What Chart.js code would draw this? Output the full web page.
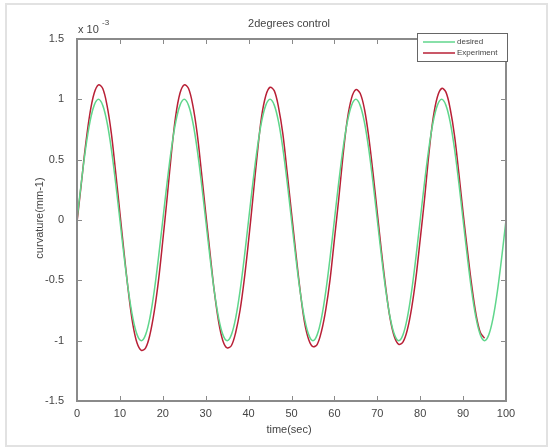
<!DOCTYPE html>
<html>
<head>
<meta charset="utf-8">
<script src="https://cdn.jsdelivr.net/npm/chart.js@4/dist/chart.umd.min.js"></script>
<style>
  html, body { margin: 0; padding: 0; background: #fff; }
  #frame { position: absolute; left: 5px; top: 3px; width: 539px; height: 440px; border: 2px solid #e2e2e2; }
  #wrap { position: absolute; left: 0; top: 0; width: 552px; height: 447px; }
</style>
</head>
<body>
<div id="frame"></div>
<div id="wrap"><canvas id="chart" width="552" height="447"></canvas></div>
<script>
// time (sec) and curvature values, in units of 1e-3
const timeDesired = [
  0, 1, 2, 3, 4, 5, 6, 7, 8, 9, 10, 11, 12, 13, 14, 15, 16, 17, 18, 19,
  20, 21, 22, 23, 24, 25, 26, 27, 28, 29, 30, 31, 32, 33, 34, 35, 36, 37, 38, 39,
  40, 41, 42, 43, 44, 45, 46, 47, 48, 49, 50, 51, 52, 53, 54, 55, 56, 57, 58, 59,
  60, 61, 62, 63, 64, 65, 66, 67, 68, 69, 70, 71, 72, 73, 74, 75, 76, 77, 78, 79,
  80, 81, 82, 83, 84, 85, 86, 87, 88, 89, 90, 91, 92, 93, 94, 95, 96, 97, 98, 99, 100
];
const desired = [
  0, 0.31, 0.59, 0.81, 0.95, 1, 0.95, 0.81, 0.59, 0.31, 0, -0.31, -0.59, -0.81, -0.95, -1, -0.95, -0.81, -0.59, -0.31,
  0, 0.31, 0.59, 0.81, 0.95, 1, 0.95, 0.81, 0.59, 0.31, 0, -0.31, -0.59, -0.81, -0.95, -1, -0.95, -0.81, -0.59, -0.31,
  0, 0.31, 0.59, 0.81, 0.95, 1, 0.95, 0.81, 0.59, 0.31, 0, -0.31, -0.59, -0.81, -0.95, -1, -0.95, -0.81, -0.59, -0.31,
  0, 0.31, 0.59, 0.81, 0.95, 1, 0.95, 0.81, 0.59, 0.31, 0, -0.31, -0.59, -0.81, -0.95, -1, -0.95, -0.81, -0.59, -0.31,
  0, 0.31, 0.59, 0.81, 0.95, 1, 0.95, 0.81, 0.59, 0.31, 0, -0.31, -0.59, -0.81, -0.95, -1, -0.95, -0.81, -0.59, -0.31, 0
];
const timeExperiment = timeDesired.slice(0, 96);
const experiment = [
  -0.02, 0.30, 0.62, 0.88, 1.05, 1.12, 1.09, 0.95, 0.72, 0.40, 0.06, -0.28, -0.60, -0.86, -1.02, -1.08, -1.06, -0.95, -0.76, -0.50,
  -0.17, 0.18, 0.55, 0.86, 1.05, 1.12, 1.09, 0.95, 0.72, 0.40, 0.06, -0.27, -0.59, -0.84, -1.00, -1.06, -1.04, -0.93, -0.75, -0.49,
  -0.17, 0.18, 0.54, 0.85, 1.03, 1.10, 1.07, 0.93, 0.71, 0.39, 0.06, -0.27, -0.58, -0.84, -0.99, -1.05, -1.03, -0.92, -0.74, -0.49,
  -0.16, 0.17, 0.53, 0.83, 1.01, 1.08, 1.05, 0.92, 0.69, 0.39, 0.06, -0.27, -0.57, -0.82, -0.97, -1.03, -1.01, -0.91, -0.73, -0.48,
  -0.16, 0.17, 0.54, 0.84, 1.02, 1.09, 1.06, 0.92, 0.70, 0.39, 0.06, -0.25, -0.54, -0.78, -0.93, -0.98
];
const xTicks = [0, 10, 20, 30, 40, 50, 60, 70, 80, 90, 100];
const yTicks = [-1.5, -1, -0.5, 0, 0.5, 1, 1.5];

const GREEN = 'rgb(96, 214, 140)';
const RED = 'rgb(184, 32, 54)';
const AXIS = '#8a8a8a';
const TEXT = '#444';
const FONT = "'Liberation Sans', Arial, sans-serif";

const toPoints = (xs, ys) => ys.map((y, i) => ({ x: xs[i], y: y }));

// MATLAB-like decorations: box, inward ticks, title, labels, legend
const matlabDecor = {
    id: 'matlabDecor',
    afterDraw(chart) {
        const { ctx, chartArea: a, scales } = chart;
        ctx.save();
        ctx.strokeStyle = AXIS;
        ctx.lineWidth = 2;
        ctx.strokeRect(a.left, a.top, a.right - a.left, a.bottom - a.top);

        ctx.lineWidth = 1;
        ctx.beginPath();
        xTicks.slice(1, -1).forEach(v => {
            const px = Math.round(scales.x.getPixelForValue(v)) + 0.5;
            ctx.moveTo(px, a.bottom); ctx.lineTo(px, a.bottom - 5);
            ctx.moveTo(px, a.top); ctx.lineTo(px, a.top + 5);
        });
        yTicks.slice(1, -1).forEach(v => {
            const py = Math.round(scales.y.getPixelForValue(v)) + 0.5;
            ctx.moveTo(a.left, py); ctx.lineTo(a.left + 5, py);
            ctx.moveTo(a.right, py); ctx.lineTo(a.right - 5, py);
        });
        ctx.stroke();

        ctx.fillStyle = TEXT;
        ctx.textBaseline = 'middle';
        ctx.textAlign = 'center';
        ctx.font = '11px ' + FONT;
        ctx.fillText('2degrees control', 289, 24);
        ctx.fillText('time(sec)', 289, 430);

        ctx.textAlign = 'left';
        ctx.fillText('x 10', 78, 30);
        ctx.font = '8px ' + FONT;
        ctx.fillText('-3', 102, 23);

        ctx.save();
        ctx.translate(40, 218);
        ctx.rotate(-Math.PI / 2);
        ctx.textAlign = 'center';
        ctx.font = '11px ' + FONT;
        ctx.fillText('curvature(mm-1)', 0, 0);
        ctx.restore();

        // legend box
        const lx = 417, ly = 33, lw = 90, lh = 28;
        ctx.fillStyle = '#fff';
        ctx.fillRect(lx, ly, lw, lh);
        ctx.strokeStyle = '#666';
        ctx.lineWidth = 1;
        ctx.strokeRect(lx + 0.5, ly + 0.5, lw, lh);
        const entries = [['desired', GREEN], ['Experiment', RED]];
        entries.forEach(([label, color], i) => {
            const y = ly + 9 + i * 11;
            ctx.strokeStyle = color;
            ctx.lineWidth = 1.5;
            ctx.beginPath();
            ctx.moveTo(423, y); ctx.lineTo(455, y);
            ctx.stroke();
            ctx.fillStyle = TEXT;
            ctx.font = '8px ' + FONT;
            ctx.textAlign = 'left';
            ctx.fillText(label, 457, y);
        });
        ctx.restore();
    }
};

new Chart(document.getElementById('chart'), {
    type: 'line',
    data: {
        datasets: [
            { label: 'desired', data: toPoints(timeDesired, desired), borderColor: GREEN, borderWidth: 1.5 },
            { label: 'Experiment', data: toPoints(timeExperiment, experiment), borderColor: RED, borderWidth: 1.5 }
        ]
    },
    options: {
        responsive: false,
        animation: false,
        events: [],
        layout: { padding: { left: 0, top: 39, right: 46, bottom: 0 } },
        elements: { point: { radius: 0 }, line: { tension: 0.35, fill: false } },
        plugins: { legend: { display: false }, tooltip: { enabled: false } },
        scales: {
            x: {
                type: 'linear', min: 0, max: 100,
                afterFit: s => { s.height = 46; },
                afterBuildTicks: s => { s.ticks = xTicks.map(v => ({ value: v })); },
                grid: { display: false },
                border: { display: false },
                ticks: { color: TEXT, font: { size: 11, family: FONT }, padding: -2, maxRotation: 0 }
            },
            y: {
                type: 'linear', min: -1.5, max: 1.5,
                afterFit: s => { s.width = 77; },
                afterBuildTicks: s => { s.ticks = yTicks.map(v => ({ value: v })); },
                grid: { display: false },
                border: { display: false },
                ticks: { color: TEXT, font: { size: 11, family: FONT }, padding: 5, callback: v => String(v) }
            }
        }
    },
    plugins: [matlabDecor]
});
</script>
</body>
</html>
